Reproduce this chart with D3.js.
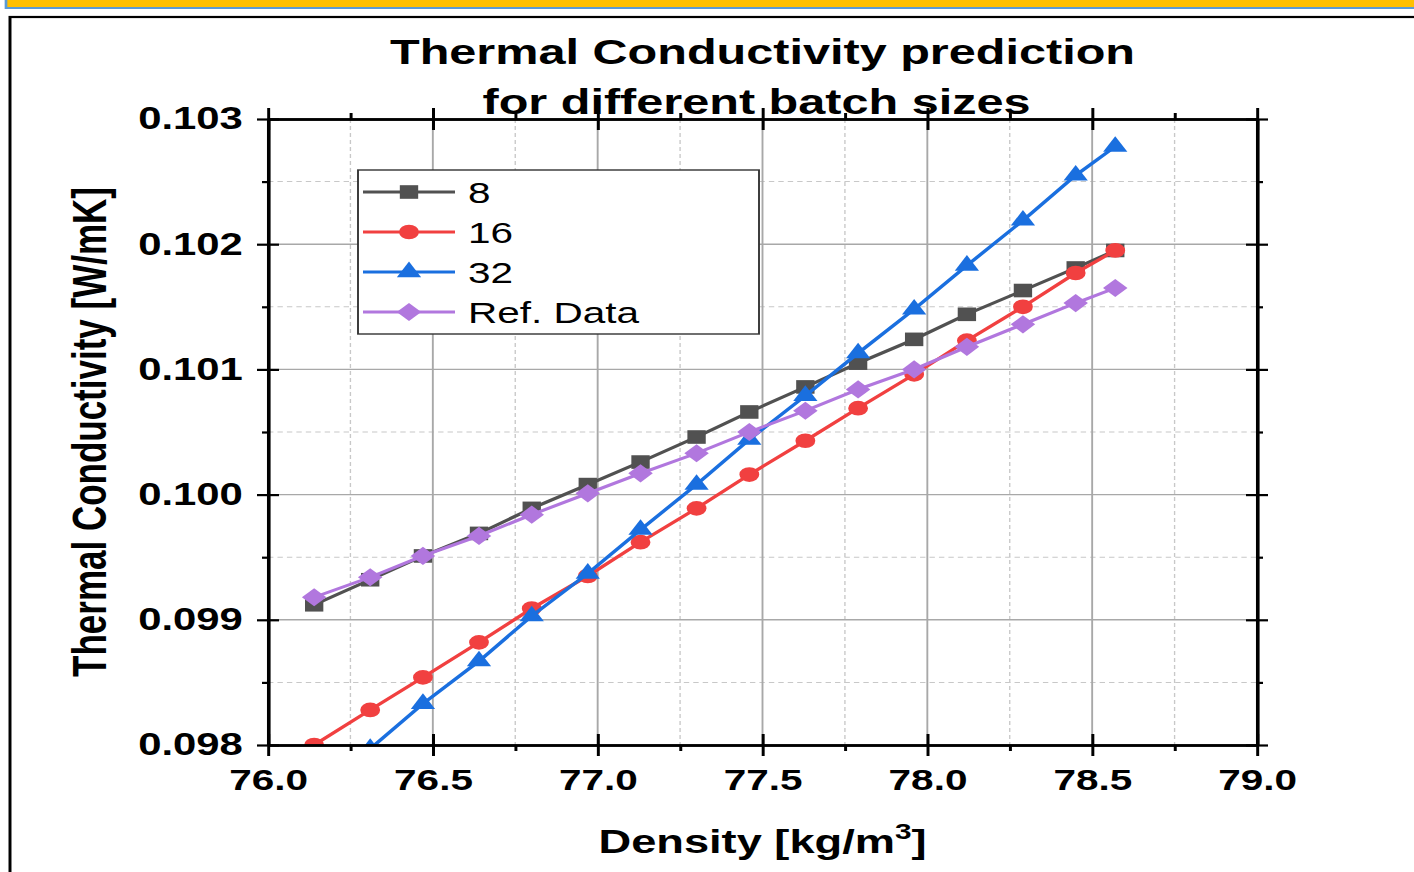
<!DOCTYPE html>
<html>
<head>
<meta charset="utf-8">
<script src="https://cdn.jsdelivr.net/npm/d3@7"></script>
<style>
  html, body { margin: 0; padding: 0; background: #fff; overflow: hidden; }
  text { font-family: "Liberation Sans", Arial, sans-serif; }
</style>
</head>
<body>
<div id="chart"></div>
<script>
// data
var density = [76.14, 76.31, 76.47, 76.64, 76.80, 76.97, 77.13, 77.30, 77.46, 77.63, 77.79, 77.96, 78.12, 78.29, 78.45, 78.57];
var batch8  = [0.09912, 0.09932, 0.09951, 0.09969, 0.09989, 0.10008, 0.10026, 0.10046, 0.10066, 0.10086, 0.10105, 0.10124, 0.10144, 0.10163, 0.10181, 0.10195];
var batch16 = [0.09800, 0.09828, 0.09854, 0.09882, 0.09909, 0.09935, 0.09962, 0.09989, 0.10016, 0.10043, 0.10069, 0.10096, 0.10123, 0.10150, 0.10177, 0.10195];
var batch32 = [0.09762, 0.09797, 0.09833, 0.09867, 0.09903, 0.09937, 0.09972, 0.10008, 0.10044, 0.10079, 0.10113, 0.10148, 0.10183, 0.10219, 0.10255, 0.10278];
var refData = [0.09918, 0.09934, 0.09951, 0.09967, 0.09984, 0.10001, 0.10017, 0.10033, 0.10050, 0.10067, 0.10084, 0.10100, 0.10118, 0.10136, 0.10153, 0.10165];

var seriesNames = ["8", "16", "32", "Ref. Data"];
var seriesColors = ["#515151", "#F14040", "#1A6FDF", "#B177DE"];
// diamond is drawn as a square turned 45 degrees, like Origin does
var seriesSymbols = [d3.symbolSquare, d3.symbolCircle, d3.symbolTriangle, d3.symbolSquare];
var symRotate = [0, 0, 0, 45];
var symSize = [185, 170, 140, 165];

var xTicks = [76.0, 76.5, 77.0, 77.5, 78.0, 78.5, 79.0];
var yTicks = [0.098, 0.099, 0.100, 0.101, 0.102, 0.103];
var xMinor = [76.25, 76.75, 77.25, 77.75, 78.25, 78.75];
var yMinor = [0.0985, 0.0995, 0.1005, 0.1015, 0.1025];

// the original figure is stretched sideways, so draw in a narrower box and stretch it
var S = 1.35;
var W = 1414, H = 872;
var W0 = W / S;

var svg = d3.select("#chart")
    .append("svg")
    .attr("width", W)
    .attr("height", H)
    .attr("viewBox", "0 0 " + W0 + " " + H)
    .attr("preserveAspectRatio", "none");

// slide frame
svg.append("rect")
    .attr("x", 6 / S).attr("y", -4)
    .attr("width", W0).attr("height", 12)
    .attr("fill", "#FFC000")
    .attr("stroke", "#5B9BD5")
    .attr("stroke-width", 2);
svg.append("rect")
    .attr("x", 10 / S).attr("y", 17)
    .attr("width", W0).attr("height", H)
    .attr("fill", "none")
    .attr("stroke", "#000")
    .attr("stroke-width", 2.2);

var pLeft = 268 / S, pRight = 1257 / S, pTop = 119, pBottom = 745;

var x = d3.scaleLinear().domain([76, 79]).range([pLeft, pRight]);
var y = d3.scaleLinear().domain([0.098, 0.103]).range([pBottom, pTop]);

// grid
var grid = svg.append("g");
grid.selectAll(".vmin").data(xMinor).enter().append("line")
    .attr("x1", function(d) { return x(d); }).attr("x2", function(d) { return x(d); })
    .attr("y1", pTop).attr("y2", pBottom)
    .attr("stroke", "#c8c8c8").attr("stroke-width", 1).attr("stroke-dasharray", "4,3");
grid.selectAll(".hmin").data(yMinor).enter().append("line")
    .attr("x1", pLeft).attr("x2", pRight)
    .attr("y1", function(d) { return y(d); }).attr("y2", function(d) { return y(d); })
    .attr("stroke", "#c8c8c8").attr("stroke-width", 1).attr("stroke-dasharray", "4,3");
grid.selectAll(".vmaj").data(xTicks.slice(1, -1)).enter().append("line")
    .attr("x1", function(d) { return x(d); }).attr("x2", function(d) { return x(d); })
    .attr("y1", pTop).attr("y2", pBottom)
    .attr("stroke", "#a8a8a8").attr("stroke-width", 1.4);
grid.selectAll(".hmaj").data(yTicks.slice(1, -1)).enter().append("line")
    .attr("x1", pLeft).attr("x2", pRight)
    .attr("y1", function(d) { return y(d); }).attr("y2", function(d) { return y(d); })
    .attr("stroke", "#a8a8a8").attr("stroke-width", 1.4);

// series
var series = [batch8, batch16, batch32, refData];
svg.append("clipPath").attr("id", "plotclip")
    .append("rect")
    .attr("x", pLeft).attr("y", pTop)
    .attr("width", pRight - pLeft).attr("height", pBottom - pTop);

var plot = svg.append("g").attr("clip-path", "url(#plotclip)");
var line = d3.line()
    .x(function(d) { return x(d[0]); })
    .y(function(d) { return y(d[1]); });

series.forEach(function(vals, i) {
    var pts = density.map(function(d, j) { return [d, vals[j]]; });
    plot.append("path")
        .datum(pts)
        .attr("d", line)
        .attr("fill", "none")
        .attr("stroke", seriesColors[i])
        .attr("stroke-width", 3);
    plot.selectAll(".m" + i)
        .data(pts)
        .enter()
        .append("path")
        .attr("transform", function(d) {
            return "translate(" + x(d[0]) + "," + y(d[1]) + ") rotate(" + symRotate[i] + ")"; })
        .attr("d", d3.symbol().type(seriesSymbols[i]).size(symSize[i]))
        .attr("fill", seriesColors[i]);
});

// axes
var tk = 11, tkMin = 6;
function styleAxis(g) {
    g.select(".domain").attr("stroke", "#000").attr("stroke-width", 2.5);
    g.selectAll(".tick line").attr("stroke", "#000").attr("stroke-width", 2.2);
}

var xb = svg.append("g").attr("transform", "translate(0," + pBottom + ")")
    .call(d3.axisBottom(x).tickValues(xTicks).tickFormat(d3.format(".1f")).tickSize(tk).tickSizeOuter(0).tickPadding(13));
xb.selectAll(".tick line").attr("y1", -tk);
xb.selectAll("text").attr("font-size", 30).attr("font-weight", "bold").attr("fill", "#000");
styleAxis(xb);
var xbm = svg.append("g").attr("transform", "translate(0," + pBottom + ")")
    .call(d3.axisBottom(x).tickValues(xMinor).tickFormat("").tickSize(tkMin).tickSizeOuter(0));
styleAxis(xbm);

var xt = svg.append("g").attr("transform", "translate(0," + pTop + ")")
    .call(d3.axisTop(x).tickValues(xTicks).tickFormat("").tickSize(tk).tickSizeOuter(0));
xt.selectAll(".tick line").attr("y1", tk);
styleAxis(xt);
var xtm = svg.append("g").attr("transform", "translate(0," + pTop + ")")
    .call(d3.axisTop(x).tickValues(xMinor).tickFormat("").tickSize(tkMin).tickSizeOuter(0));
styleAxis(xtm);

var yl = svg.append("g").attr("transform", "translate(" + pLeft + ",0)")
    .call(d3.axisLeft(y).tickValues(yTicks).tickFormat(d3.format(".3f")).tickSize(tk / S).tickSizeOuter(0).tickPadding(10.5));
yl.selectAll(".tick line").attr("x1", tk / S);
yl.selectAll("text").attr("font-size", 31).attr("font-weight", "bold").attr("fill", "#000");
styleAxis(yl);
var ylm = svg.append("g").attr("transform", "translate(" + pLeft + ",0)")
    .call(d3.axisLeft(y).tickValues(yMinor).tickFormat("").tickSize(tkMin / S).tickSizeOuter(0));
styleAxis(ylm);

var yr = svg.append("g").attr("transform", "translate(" + pRight + ",0)")
    .call(d3.axisRight(y).tickValues(yTicks).tickFormat("").tickSize(tk / S).tickSizeOuter(0));
yr.selectAll(".tick line").attr("x1", -tk / S);
styleAxis(yr);
var yrm = svg.append("g").attr("transform", "translate(" + pRight + ",0)")
    .call(d3.axisRight(y).tickValues(yMinor).tickFormat("").tickSize(tkMin / S).tickSizeOuter(0));
styleAxis(yrm);

// title
var cx = (pLeft + pRight) / 2;
svg.append("text")
    .attr("x", cx).attr("y", 64)
    .attr("text-anchor", "middle")
    .attr("font-size", 36).attr("font-weight", "bold")
    .text("Thermal Conductivity prediction");
svg.append("text")
    .attr("x", cx - 6 / S).attr("y", 114)
    .attr("text-anchor", "middle")
    .attr("font-size", 36).attr("font-weight", "bold")
    .text("for different batch sizes");

// axis titles
var xl = svg.append("text")
    .attr("x", cx).attr("y", 853)
    .attr("text-anchor", "middle")
    .attr("font-size", 33.5).attr("font-weight", "bold");
xl.append("tspan").text("Density [kg/m");
xl.append("tspan").attr("font-size", 22).attr("dy", -14).text("3");
xl.append("tspan").attr("dy", 14).text("]");

svg.append("text")
    .attr("transform", "translate(" + (106 / S) + "," + ((pTop + pBottom) / 2) + ") rotate(-90)")
    .attr("text-anchor", "middle")
    .attr("font-size", 35).attr("font-weight", "bold")
    .text("Thermal Conductivity [W/mK]");

// legend
var lg = svg.append("g");
lg.append("rect")
    .attr("x", 358 / S).attr("y", 170)
    .attr("width", (759 - 358) / S).attr("height", 164)
    .attr("fill", "#fff")
    .attr("stroke", "#333").attr("stroke-width", 1.4);
seriesNames.forEach(function(label, i) {
    var ly = 192 + i * 40;
    lg.append("line")
        .attr("x1", 363 / S).attr("x2", 455 / S)
        .attr("y1", ly).attr("y2", ly)
        .attr("stroke", seriesColors[i]).attr("stroke-width", 3);
    lg.append("path")
        .attr("transform", "translate(" + (409 / S) + "," + ly + ") rotate(" + symRotate[i] + ")")
        .attr("d", d3.symbol().type(seriesSymbols[i]).size(symSize[i]))
        .attr("fill", seriesColors[i]);
    lg.append("text")
        .attr("x", 468 / S).attr("y", ly + 11)
        .attr("font-size", 30)
        .attr("fill", "#000")
        .text(label);
});
</script>
</body>
</html>
